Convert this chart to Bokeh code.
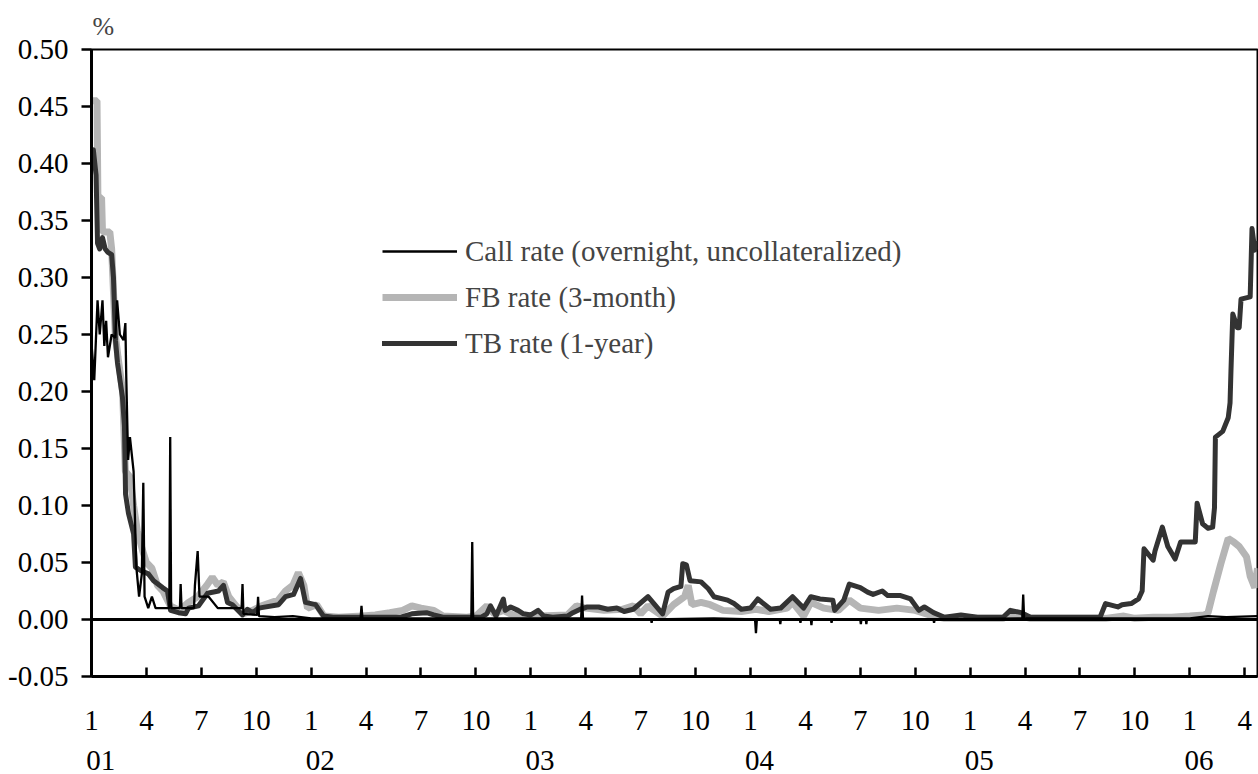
from bokeh.plotting import figure
from bokeh.models import (Range1d, FixedTicker, LinearAxis, Legend, LegendItem,
                          Span, NumeralTickFormatter)
from bokeh.embed import file_html
from bokeh.resources import INLINE

# x values are months elapsed since 1 Jan 2001
call_x = [0.0, 0.15, 0.33, 0.45, 0.6, 0.7, 0.8, 0.9, 1.1, 1.3, 1.4, 1.55, 1.75, 1.85, 1.9,
          2.0, 2.1, 2.3, 2.45, 2.6, 2.75, 2.83, 2.9, 3.1, 3.3, 3.5, 4.25, 4.3, 4.35,
          4.83, 4.87, 4.92, 5.6, 5.65, 5.8, 5.9, 6.4, 6.9, 8.2, 8.25, 8.3, 9.05, 9.1, 9.15,
          10.0, 11.0, 12.0, 14.7, 14.75, 14.8, 20.75, 20.8, 20.85, 26.75, 26.8, 26.85,
          30.57, 30.6, 30.63, 34.0, 36.25, 36.3, 36.35, 37.6, 37.63, 37.66, 38.7, 38.73, 38.76,
          39.3, 39.33, 39.36, 40.4, 40.43, 40.46, 42.0, 42.03, 42.06, 42.3, 42.33, 42.36,
          46.0, 46.03, 46.06, 50.85, 50.9, 50.95, 60.0, 61.0, 62.0, 63.7]
call_y = [0.242, 0.21, 0.28, 0.25, 0.28, 0.24, 0.262, 0.23, 0.25, 0.247, 0.28, 0.25, 0.245, 0.26, 0.212,
          0.14, 0.16, 0.13, 0.046, 0.02, 0.04, 0.12, 0.02, 0.01, 0.02, 0.01, 0.01, 0.16, 0.01,
          0.01, 0.031, 0.01, 0.01, 0.03, 0.06, 0.02, 0.02, 0.01, 0.01, 0.031, 0.005, 0.004, 0.02, 0.003,
          0.002, 0.003, 0.001, 0.001, 0.012, 0.001, 0.001, 0.068, 0.001, 0.001, 0.021, 0.001,
          0.0, -0.003, 0.0, 0.001, 0.0, -0.012, 0.0, 0.0, -0.004, 0.0, 0.0, -0.003, 0.0,
          0.0, -0.005, 0.0, 0.0, -0.003, 0.0, 0.0, -0.004, 0.0, 0.0, -0.004, 0.0,
          0.0, -0.003, 0.0, 0.001, 0.022, 0.001, 0.001, 0.003, 0.002, 0.003]

fb_x = [0.05, 0.3, 0.35, 0.55, 0.6, 1.0, 1.1, 1.3, 1.45, 1.7, 1.85, 2.1, 2.3, 2.5, 2.8, 3.0,
        3.3, 3.6, 3.9, 4.3, 4.8, 5.3, 5.8, 6.3, 6.6, 6.9, 7.2, 7.5, 7.9, 8.3, 8.8, 9.3, 10.2,
        10.6, 11.0, 11.3, 11.6, 11.8, 12.3, 12.7, 13.5, 14.8, 15.5, 16.3, 17.0, 17.5, 18.0,
        18.7, 19.2, 20.5, 21.0, 21.6, 22.0, 22.5, 23.0, 24.5, 26.0, 26.5, 27.0, 28.0, 29.0,
        29.6, 30.0, 30.4, 31.2, 31.8, 32.4, 32.6, 32.8, 33.3, 33.8, 34.5, 35.5, 36.3, 37.0,
        38.0, 38.3, 38.9, 39.3, 40.0, 40.8, 41.4, 42.0, 43.0, 44.0, 45.0, 46.0, 46.6, 48.0,
        49.8, 50.2, 50.8, 51.3, 55.4, 56.4, 57.0, 58.0, 59.0, 60.0, 60.8, 61.0, 61.3, 61.7,
        62.1, 62.4, 62.7, 63.1, 63.3, 63.55, 63.7]
fb_y = [0.455, 0.455, 0.37, 0.37, 0.34, 0.34, 0.325, 0.25, 0.23, 0.2, 0.13, 0.125, 0.1, 0.078, 0.06, 0.05,
        0.045, 0.03, 0.025, 0.012, 0.008, 0.015, 0.02, 0.03, 0.037, 0.03, 0.033, 0.02, 0.012, 0.005, 0.008, 0.012, 0.017,
        0.025, 0.03, 0.041, 0.03, 0.01, 0.013, 0.003, 0.002, 0.003, 0.004, 0.006, 0.008, 0.012, 0.01,
        0.008, 0.003, 0.002, 0.003, 0.012, 0.005, 0.008, 0.004, 0.003, 0.004, 0.012, 0.01, 0.008, 0.009,
        0.012, 0.005, 0.012, 0.003, 0.013, 0.02, 0.03, 0.013, 0.015, 0.013, 0.008, 0.007, 0.009, 0.007,
        0.01, 0.015, 0.003, 0.015, 0.01, 0.008, 0.017, 0.01, 0.008, 0.01, 0.008, 0.003, 0.001, 0.001,
        0.001, 0.004, 0.003, 0.001, 0.001, 0.003, 0.001, 0.002, 0.002, 0.003, 0.004, 0.006, 0.025, 0.049,
        0.071, 0.068, 0.064, 0.055, 0.038, 0.028, 0.045]

tb_x = [0.0, 0.1, 0.25, 0.33, 0.45, 0.6, 0.75, 0.9, 1.1, 1.2, 1.31, 1.42, 1.69, 1.8, 1.86, 2.02,
        2.3, 2.4, 2.68, 3.11, 3.39, 3.88, 4.15, 4.32, 4.75, 5.14, 5.3, 5.85, 6.34, 6.94, 7.21,
        7.43, 7.7, 8.25, 8.52, 8.8, 9.13, 10.22, 10.6, 11.04, 11.42, 11.69, 12.24, 12.68, 13.2,
        16.9, 17.5, 18.3, 18.7, 19.2, 21.3, 21.6, 21.8, 22.1, 22.5, 22.6, 22.9, 23.3, 23.6, 24.0,
        24.4, 24.7, 25.2, 26.0, 26.3, 26.7, 27.1, 27.7, 28.2, 28.7, 29.1, 29.6, 30.4, 31.2, 31.5,
        31.8, 32.2, 32.3, 32.5, 32.7, 33.3, 33.7, 34.0, 34.75, 35.1, 35.5, 36.0, 36.4, 37.1, 37.65,
        38.3, 38.9, 39.3, 39.8, 40.5, 40.6, 41.1, 41.4, 42.0, 42.4, 42.7, 43.2, 43.5, 44.2, 44.75,
        45.2, 45.5, 46.0, 46.6, 47.5, 48.4, 49.8, 50.2, 50.8, 51.3, 55.1, 55.4, 56.07, 56.3, 56.8,
        57.2, 57.4, 57.5, 58.0, 58.1, 58.5, 58.8, 59.2, 59.5, 60.3, 60.4, 60.7, 61.0, 61.25, 61.35,
        61.4, 61.8, 62.1, 62.2, 62.25, 62.35, 62.6, 62.7, 62.8, 63.3, 63.4, 63.55, 63.7]
tb_y = [0.41, 0.412, 0.39, 0.33, 0.325, 0.335, 0.325, 0.322, 0.32, 0.3, 0.245, 0.225, 0.195, 0.17, 0.11, 0.093,
        0.075, 0.046, 0.043, 0.04, 0.034, 0.028, 0.025, 0.008, 0.006, 0.005, 0.01, 0.012, 0.023, 0.025, 0.03,
        0.015, 0.013, 0.004, 0.009, 0.006, 0.01, 0.013, 0.02, 0.022, 0.036, 0.015, 0.013, 0.003, 0.002,
        0.002, 0.005, 0.006, 0.004, 0.002, 0.002, 0.005, 0.012, 0.003, 0.018, 0.008, 0.011, 0.008, 0.005, 0.004,
        0.008, 0.003, 0.002, 0.003, 0.006, 0.009, 0.011, 0.011, 0.009, 0.01, 0.007, 0.009, 0.02, 0.005, 0.024,
        0.027, 0.029, 0.049, 0.048, 0.034, 0.033, 0.027, 0.02, 0.017, 0.014, 0.009, 0.01, 0.018, 0.009, 0.01,
        0.02, 0.01, 0.02, 0.018, 0.017, 0.008, 0.017, 0.031, 0.028, 0.024, 0.022, 0.025, 0.021, 0.021, 0.018,
        0.008, 0.011, 0.006, 0.002, 0.004, 0.002, 0.002, 0.008, 0.006, 0.002, 0.002, 0.014, 0.011, 0.013, 0.014,
        0.018, 0.025, 0.062, 0.052, 0.06, 0.081, 0.064, 0.053, 0.068, 0.068, 0.102, 0.084, 0.08, 0.081, 0.098,
        0.16, 0.165, 0.177, 0.19, 0.218, 0.268, 0.256, 0.256, 0.281, 0.283, 0.343, 0.324, 0.33]

month_labels = ["1", "4", "7", "10"]
year_labels = ["01", "02", "03", "04", "05", "06"]
y_ticks = [-0.05, 0.0, 0.05, 0.10, 0.15, 0.20, 0.25, 0.30, 0.35, 0.40, 0.45, 0.50]
series_names = ["Call rate (overnight, uncollateralized)", "FB rate (3-month)", "TB rate (1-year)"]

FONT = "Liberation Serif"
FS = "29px"

p = figure(width=1258, height=774, output_backend="svg", toolbar_location=None,
           x_range=Range1d(0, 63.7), y_range=Range1d(-0.05, 0.50),
           min_border_left=91, min_border_right=1, min_border_top=48, min_border_bottom=98)
p.background_fill_color = "white"
p.border_fill_color = "white"
p.outline_line_color = "black"
p.outline_line_width = 2
p.xgrid.visible = False
p.ygrid.visible = False

p.title.text = "%"
p.title.text_font = FONT
p.title.text_font_size = "26px"
p.title.text_font_style = "normal"
p.title.align = "left"
p.title.offset = 1
p.title.standoff = 18

# lines
r_fb = p.line(fb_x, fb_y, line_color="#b5b5b5", line_width=7)
r_tb = p.line(tb_x, tb_y, line_color="#333333", line_width=5, line_join="round", line_cap="round")
r_call = p.line(call_x, call_y, line_color="black", line_width=2.3)
p.add_layout(Span(location=0, dimension="width", line_color="black", line_width=3))

# y axis
ya = p.yaxis[0]
ya.ticker = FixedTicker(ticks=y_ticks)
ya.formatter = NumeralTickFormatter(format="0.00")
ya.major_tick_in = 0
ya.major_tick_out = 10
ya.major_tick_line_width = 2.5
ya.minor_tick_line_color = None
ya.axis_line_width = 3
ya.major_label_standoff = 13
ya.major_label_text_font = FONT
ya.major_label_text_font_size = FS
ya.major_label_text_color = "black"

# x axis (months)
month_ticks = list(range(0, 64, 3))
xa = p.xaxis[0]
xa.ticker = FixedTicker(ticks=month_ticks)
xa.major_label_overrides = {t: month_labels[(t // 3) % 4] for t in month_ticks}
xa.major_tick_in = 9
xa.major_tick_out = 0
xa.major_tick_line_width = 2.5
xa.minor_tick_line_color = None
xa.axis_line_width = 3
xa.major_label_standoff = 34
xa.major_label_text_font = FONT
xa.major_label_text_font_size = FS
xa.major_label_text_color = "black"

# year axis
year_ticks = [12 * i + 0.5 for i in range(len(year_labels))]
yr = LinearAxis(ticker=FixedTicker(ticks=year_ticks),
                major_label_overrides={t: lab for t, lab in zip(year_ticks, year_labels)},
                axis_line_color=None, major_tick_line_color=None, minor_tick_line_color=None,
                major_label_standoff=12, major_label_text_font=FONT,
                major_label_text_font_size=FS, major_label_text_color="black")
p.add_layout(yr, "below")

legend = Legend(items=[LegendItem(label=series_names[0], renderers=[r_call]),
                       LegendItem(label=series_names[1], renderers=[r_fb]),
                       LegendItem(label=series_names[2], renderers=[r_tb])],
                location=(291, 310), padding=0, margin=0, spacing=0,
                glyph_width=75, glyph_height=46, label_height=46, label_standoff=8,
                label_text_font=FONT, label_text_font_size=FS,
                background_fill_alpha=0, border_line_color=None)
p.add_layout(legend, "center")

open("out.html", "w").write(file_html(p, INLINE))
